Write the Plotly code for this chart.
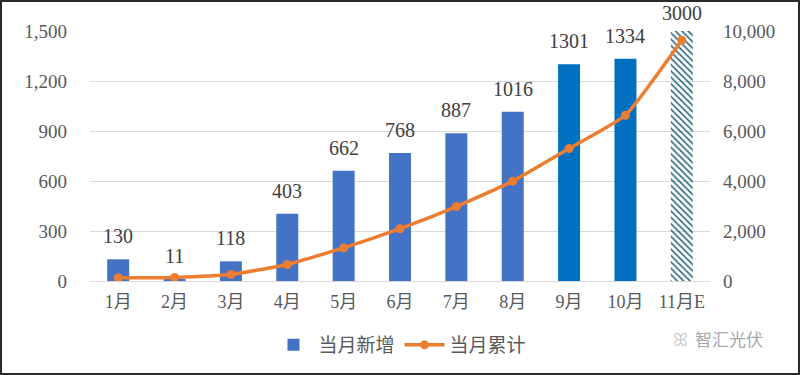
import plotly.graph_objects as go

months = ["1月", "2月", "3月", "4月", "5月", "6月", "7月", "8月", "9月", "10月", "11月E"]
monthly_new = [130, 11, 118, 403, 662, 768, 887, 1016, 1301, 1334, 3000]
cumulative = [130, 141, 259, 662, 1324, 2092, 2979, 3995, 5296, 6630, 9630]
left_ticks = [0, 300, 600, 900, 1200, 1500]
right_ticks = [0, 2000, 4000, 6000, 8000, 10000]

W, H = 800, 375
ML, MR, MT, MB = 90, 90, 31, 94
PW, PH = W - ML - MR, H - MT - MB

bar_colors = ["#4472C4"] * 8 + ["#0070C0", "#0070C0", "#2B6680"]
pattern_shapes = [""] * 10 + ["\\"]

serif = "Liberation Serif, Times New Roman, Noto Sans CJK SC, serif"
sans = "Noto Sans CJK SC, Noto Sans, sans-serif"
grey = "#595959"

fig = go.Figure()
fig.add_trace(go.Bar(
    x=months, y=monthly_new, name="当月新增",
    marker=dict(color=bar_colors, line=dict(width=0),
                pattern=dict(shape=pattern_shapes, bgcolor="#E6F5F9",
                             size=4.5, solidity=0.35, fillmode="replace")),
    yaxis="y", cliponaxis=True,
))
fig.add_trace(go.Scatter(
    x=months, y=cumulative, name="当月累计", yaxis="y2",
    mode="lines+markers",
    line=dict(color="#ED7D31", width=3.5, shape="spline", smoothing=0.4),
    marker=dict(color="#ED7D31", size=9),
    cliponaxis=False,
))

ymax = left_ticks[-1]
for m, v in zip(months, monthly_new):
    fig.add_annotation(x=m, y=min(v, ymax), xref="x", yref="y", text=str(v),
                       showarrow=False, yanchor="bottom",
                       yshift=10 if v <= ymax else 5,
                       font=dict(family=serif, size=20, color="#404040"))

wm_y = -(338 - MT - PH) / PH
fig.add_annotation(x=1 + 55 / PW, y=wm_y, xref="paper", yref="paper",
                   text="智汇光伏", showarrow=False, xanchor="right", yanchor="middle",
                   font=dict(family=sans, size=17, color="#A8A8A8"))
fig.add_annotation(x=1 - 30 / PW, y=wm_y, xref="paper", yref="paper",
                   text="ꕤ", showarrow=False, xanchor="center", yanchor="middle",
                   font=dict(family=sans, size=18, color="#C8C8C8"))

fig.add_shape(type="rect", xref="paper", yref="paper",
              x0=-(ML - 1) / PW, x1=1 + (MR - 1) / PW,
              y0=-(MB - 1) / PH, y1=1 + (MT - 1) / PH,
              line=dict(color="#2A2A2A", width=2), layer="above")

fig.update_layout(
    width=W, height=H,
    margin=dict(l=ML, r=MR, t=MT, b=MB, autoexpand=False),
    paper_bgcolor="white", plot_bgcolor="white",
    bargap=0.61,
    showlegend=True,
    legend=dict(orientation="h", x=0.5, xanchor="center", y=-64 / PH, yanchor="middle",
                font=dict(family=sans, size=19, color=grey), itemwidth=40,
                bgcolor="rgba(0,0,0,0)"),
    xaxis=dict(type="category", range=[-0.5, len(months) - 0.5], autorange=False,
               showgrid=False, showline=True, linecolor="#D9D9D9",
               linewidth=1, ticks="", tickfont=dict(family=serif, size=18, color=grey),
               ticklabelstandoff=4, automargin=False),
    yaxis=dict(range=[0, ymax], tickvals=left_ticks, tickformat=",d",
               showgrid=True, gridcolor="#D9D9D9", gridwidth=1, zeroline=False,
               showline=False, ticks="", ticklabelstandoff=22, automargin=False,
               tickfont=dict(family=serif, size=19, color=grey)),
    yaxis2=dict(range=[0, right_ticks[-1]], tickvals=right_ticks, tickformat=",d",
                overlaying="y", side="right", showgrid=False, zeroline=False,
                showline=False, ticks="", ticklabelstandoff=12, automargin=False,
                tickfont=dict(family=serif, size=19, color=grey)),
)

fig.write_html("out.html", config={"displayModeBar": False},
               post_script="document.body.style.margin='0';document.body.style.overflow='hidden';")
